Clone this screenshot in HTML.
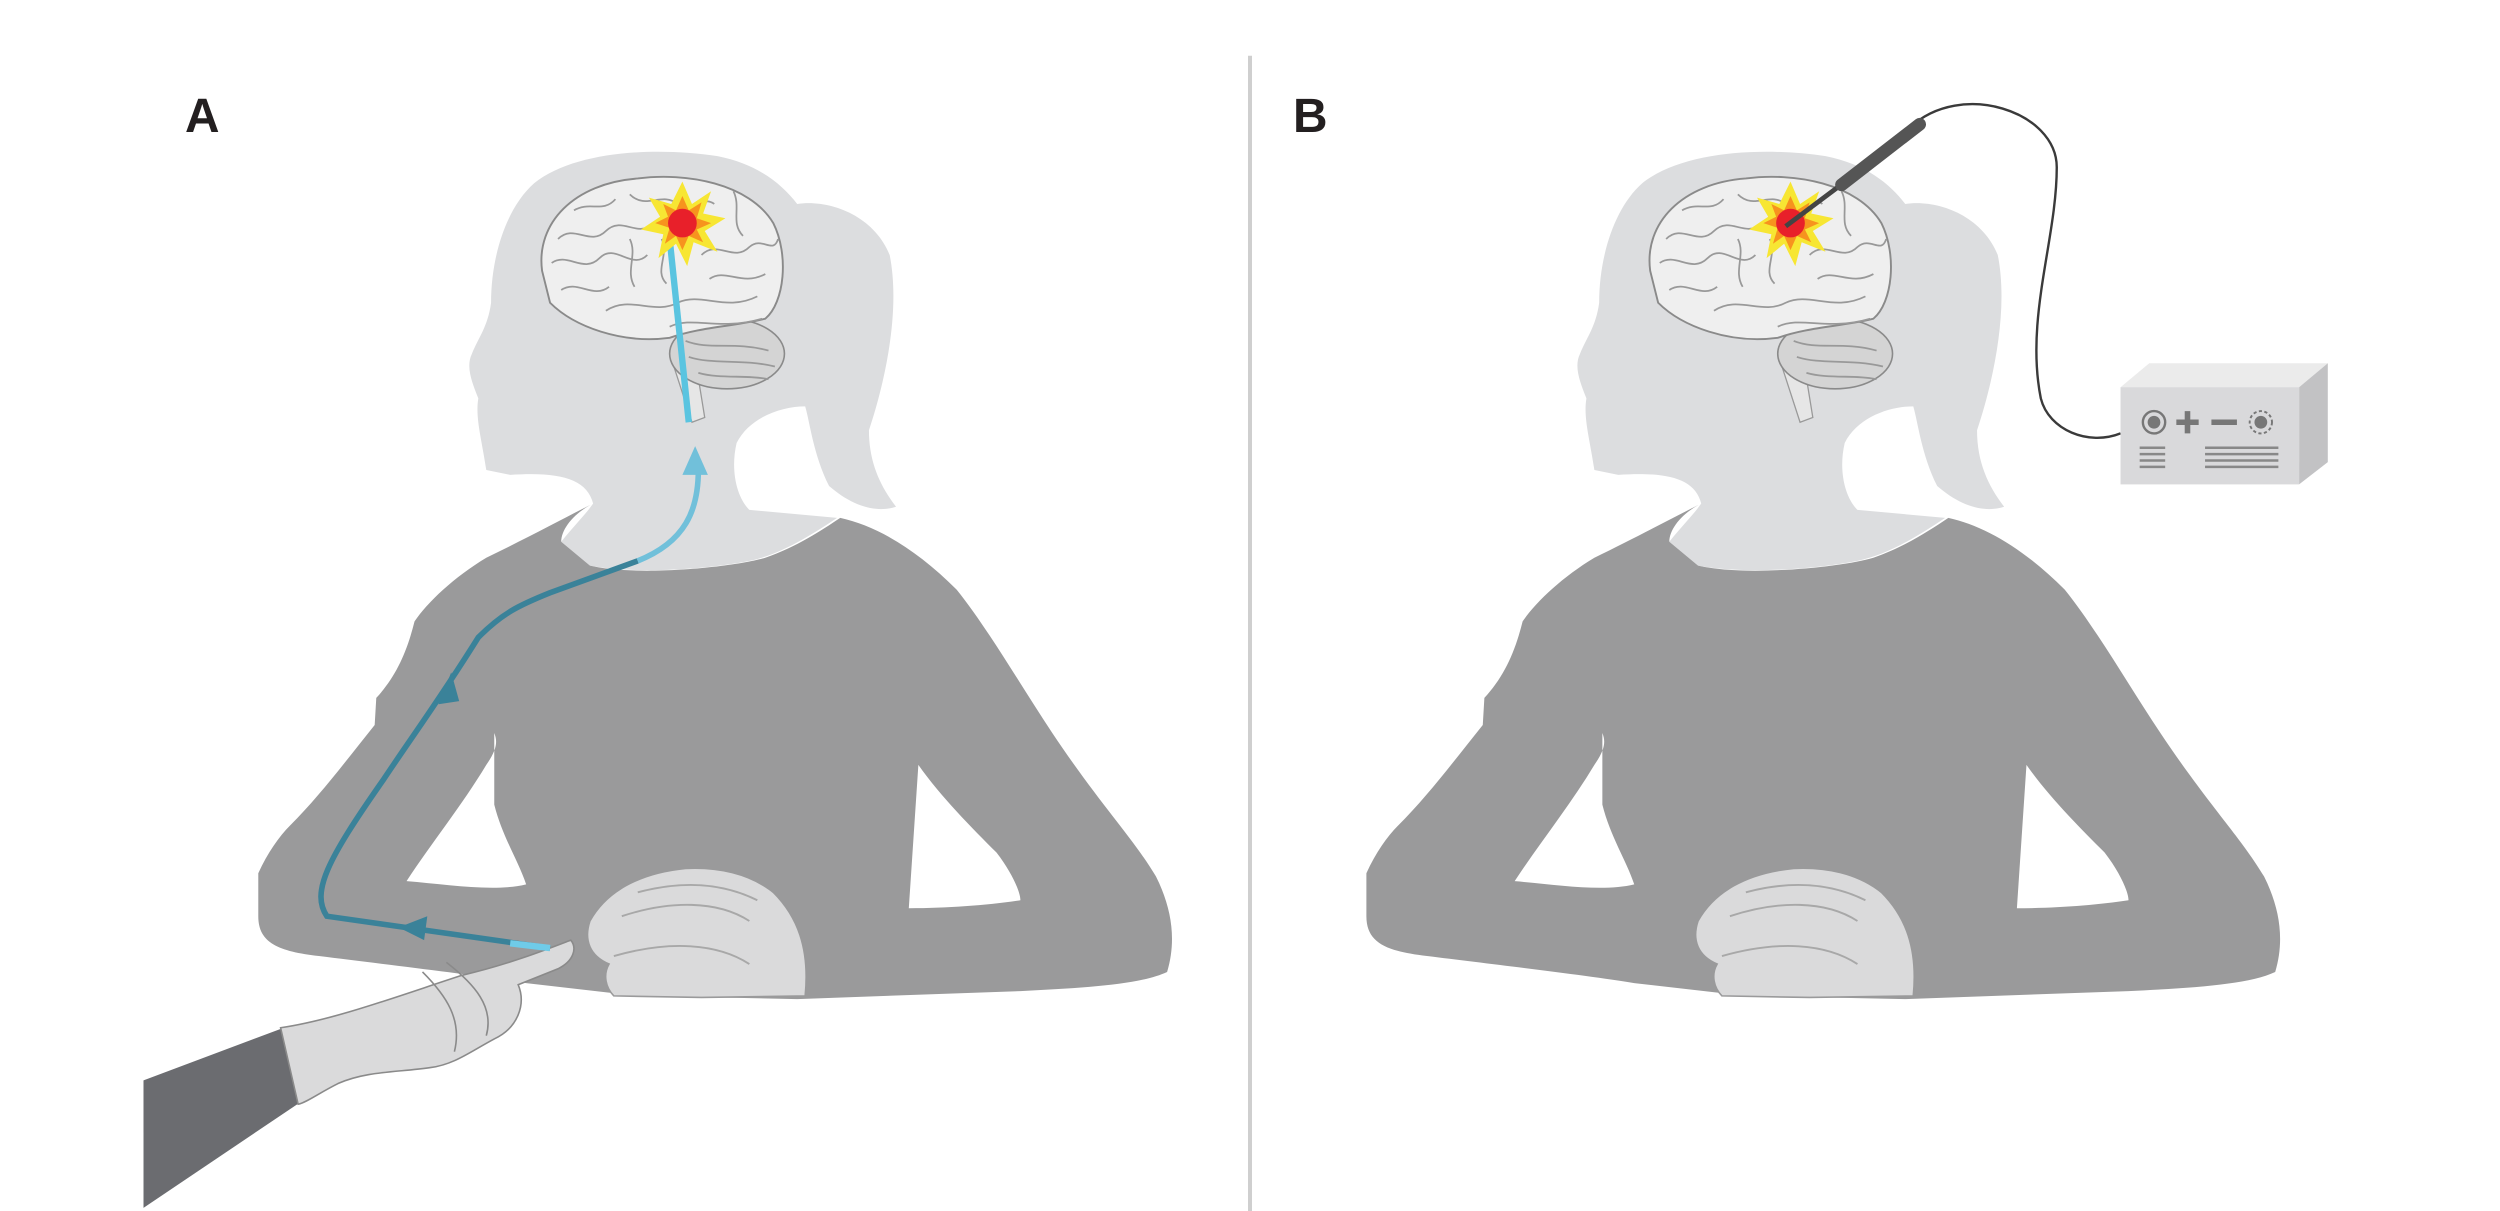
<!DOCTYPE html>
<html><head><style>html,body{margin:0;padding:0;background:#fff;width:2500px;height:1211px;overflow:hidden}</style></head>
<body>
<svg width="2500" height="1211" viewBox="0 0 1568 760" preserveAspectRatio="none" xmlns="http://www.w3.org/2000/svg">
<defs>
<g id="person">
  <path d="M305,295 C302,275 298,262 300,250 C296,240 292,230 296,222 C300,212 306,205 308,190 C308,160 318,130 335,115 C360,95 410,92 450,98 C475,103 490,115 500,128 C520,125 548,135 558,160 C565,195 555,240 545,270 C545,290 552,305 562,318 C550,322 535,318 520,305 C510,285 508,265 505,255 C490,255 470,262 462,278 C458,295 462,312 470,320 L525,325 C510,335 490,348 470,352 C440,358 395,360 370,355 L352,340 C360,330 368,322 372,316 C368,300 350,296 320,298 Z" fill="#dcdddf"/>
  <path d="M372,316 C360,322 352,332 352,340 L370,355 C400,362 460,356 480,350 C500,343 515,333 527,325 C550,330 575,345 600,370 C620,395 640,430 660,460 C690,505 710,525 725,550 C735,570 738,590 732,610 C715,618 680,620 640,622 L500,627 L400,625 L330,617 C300,612 240,605 200,600 C175,597 162,592 162,575 L162,548 C168,535 175,525 182,518 C200,500 215,480 235,455 L236,438 C248,425 255,410 260,390 C268,378 285,362 305,350 C330,338 352,326 372,316 Z" fill="#9a9a9b"/>
  <path d="M255,553 C270,530 290,505 305,480 C312,470 312,465 310,460 L310,505 C315,525 325,540 330,555 C310,560 280,555 255,553 Z" fill="#fff"/>
  <path d="M570,570 L576,480 C590,500 610,520 625,535 C635,548 640,560 640,565 C620,568 595,570 570,570 Z" fill="#fff"/>
  <path d="M370,578 C380,560 400,548 430,545 C450,544 470,548 485,560 C500,575 508,595 505,625 L440,626 L385,625 C380,620 378,612 382,605 C370,600 366,590 370,578 Z" fill="#dadadb" stroke="#9a9a9b" stroke-width="1"/>
  <path d="M390,575 C420,565 450,565 470,578 M385,600 C420,590 450,592 470,605 M400,560 C430,552 455,555 475,565" fill="none" stroke="#a8a8a8" stroke-width="1.2"/>
  <!-- brain -->
  <path d="M422,228 L434,265 L442,262 L436,225 Z" fill="#e6e6e6" stroke="#999" stroke-width="0.8"/>
  <ellipse cx="456" cy="222" rx="36" ry="22" fill="#d4d4d4" stroke="#8a8a8a" stroke-width="1"/>
  <path d="M340,170 C336,140 360,115 400,112 C430,108 470,115 485,140 C495,160 492,190 480,200 C460,205 440,205 420,212 C390,216 360,205 345,190 Z" fill="#efefef" stroke="#8a8a8a" stroke-width="1.2"/>
  <g fill="none" stroke="#999" stroke-width="1.1">
    <path d="M350,150 C360,140 370,155 380,145 C390,135 400,150 410,140"/>
    <path d="M346,165 C356,158 366,172 376,162 C386,152 396,170 406,160"/>
    <path d="M352,182 C362,175 372,188 382,180"/>
    <path d="M380,195 C395,185 410,198 425,190 C440,183 455,196 475,186"/>
    <path d="M420,205 C435,198 450,208 478,200"/>
    <path d="M395,122 C405,132 415,120 425,128 C435,135 440,122 448,128"/>
    <path d="M440,160 C450,150 460,165 470,155 C478,148 485,160 488,150"/>
    <path d="M445,175 C455,168 465,180 480,172"/>
    <path d="M360,132 C370,126 378,134 386,125"/>
    <path d="M415,150 C420,160 410,170 418,178"/>
    <path d="M395,150 C400,160 392,170 398,180"/>
    <path d="M460,120 C465,130 458,140 466,148"/>
    <path d="M430,214 C445,220 460,214 482,220"/>
    <path d="M432,224 C447,229 465,225 486,230"/>
    <path d="M438,234 C452,238 468,235 482,238"/>
  </g>
</g>
<g id="star">
  <polygon points="0,-26 6,-12 18,-20 13,-6 27,-3 14,5 22,18 7,12 3,27 -4,13 -15,22 -12,7 -26,4 -14,-4 -21,-16 -7,-12" fill="#f7e633"/>
  <polygon points="0,-17 4,-8 12,-13 9,-3 18,0 9,4 13,12 4,8 0,17 -4,8 -11,13 -8,3 -17,0 -9,-4 -12,-12 -4,-8" fill="#f7931e"/>
  <circle r="9" fill="#e8202a"/>
</g>
</defs>

<text x="116" y="83" font-family="Liberation Sans, sans-serif" font-weight="bold" font-size="30" fill="#231f20">A</text>
<text x="811" y="83" font-family="Liberation Sans, sans-serif" font-weight="bold" font-size="30" fill="#231f20">B</text>
<line x1="784" y1="35" x2="784" y2="760" stroke="#cfcfcf" stroke-width="2.5"/>

<use href="#person"/>
<path d="M90,678 L178,645 L188,692 L90,758 Z" fill="#6b6c70"/>
<path d="M176,645 C210,640 250,625 290,612 C320,605 345,595 358,590 C362,595 360,603 350,608 L325,618 C330,630 325,645 310,652 C295,660 285,668 270,670 C250,673 230,672 212,680 C200,686 192,692 187,693 Z" fill="#dadadb" stroke="#8a8a8a" stroke-width="1"/>
<path d="M265,610 C280,625 290,640 285,660 M280,604 C298,618 310,632 305,650" fill="none" stroke="#8a8a8a" stroke-width="1"/>
<path d="M345,595 L205,575 C195,560 205,540 240,490 C260,460 275,440 300,400 C315,385 325,380 345,372 L400,352" fill="none" stroke="#3a8299" stroke-width="3.5"/>
<path d="M345,595 L320,592" stroke="#6fcbe8" stroke-width="4"/>
<path d="M400,352 C430,340 438,320 438,295" fill="none" stroke="#71c0da" stroke-width="3.5"/>
<path d="M432,265 L420,150" fill="none" stroke="#5ac4e0" stroke-width="4"/>
<polygon points="250,582 268,575 266,590" fill="#3a8299"/>
<polygon points="283,422 275,442 288,440" fill="#3a8299"/>
<polygon points="436,280 428,298 444,298" fill="#71c0da"/>
<g transform="translate(428,140)"><use href="#star"/></g>

<g transform="translate(695,0)"><use href="#person"/></g>
<path d="M1198,80 C1230,50 1290,70 1290,105 C1290,150 1270,200 1280,250 C1285,270 1310,280 1330,272" fill="none" stroke="#3a3a3a" stroke-width="1.5"/>
<g transform="translate(1123,140)"><use href="#star"/></g>
<line x1="1120" y1="142" x2="1160" y2="112" stroke="#444" stroke-width="3"/>
<line x1="1155" y1="116" x2="1204" y2="78" stroke="#555" stroke-width="8" stroke-linecap="round"/>
<polygon points="1330,243 1348,228 1460,228 1442,243" fill="#ebebeb"/>
<polygon points="1442,243 1460,228 1460,290 1442,304" fill="#c2c2c4"/>
<rect x="1330" y="243" width="112" height="61" fill="#d9d9db"/>
<circle cx="1351" cy="265" r="7" fill="none" stroke="#777" stroke-width="1.5"/>
<circle cx="1351" cy="265" r="4" fill="#777"/>
<path d="M1365,265 h14 M1372,258 v14 M1387,265 h16" stroke="#777" stroke-width="3.5"/>
<circle cx="1418" cy="265" r="7" fill="none" stroke="#777" stroke-width="1.2" stroke-dasharray="2 1.5"/>
<circle cx="1418" cy="265" r="4" fill="#777"/>
<g stroke="#888" stroke-width="1.5">
<path d="M1342,281 h16 M1342,285 h16 M1342,289 h16 M1342,293 h16"/>
<path d="M1383,281 h46 M1383,285 h46 M1383,289 h46 M1383,293 h46"/>
</g>
</svg>
</body></html>
